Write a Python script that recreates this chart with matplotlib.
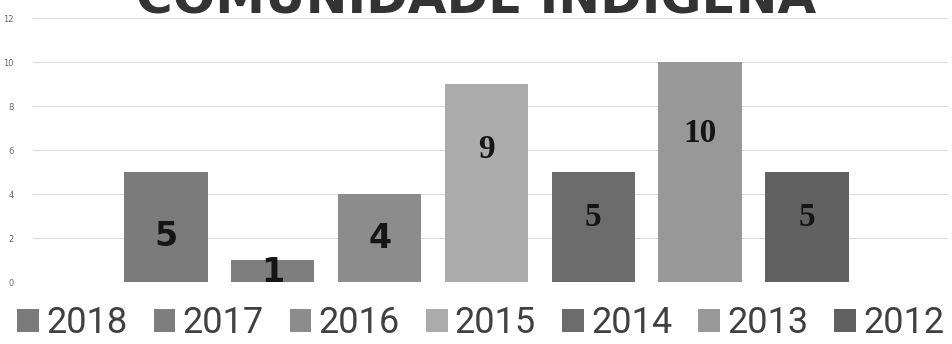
import matplotlib
matplotlib.use("Agg")
import matplotlib.pyplot as plt
from matplotlib.patches import Patch

title = "COMUNIDADE INDÍGENA"
years = ["2018", "2017", "2016", "2015", "2014", "2013", "2012"]
counts = [5, 1, 4, 9, 5, 10, 5]
yticks = [0, 2, 4, 6, 8, 10, 12]

colors = ["#7b7b7b", "#7e7e7e", "#8c8c8c", "#ababab", "#6c6c6c", "#989898", "#616161"]
# label height (data units) and font used for each bar label
label_y = [2.05, 0.45, 2.0, 6.0, 2.95, 6.75, 2.95]
label_family = ["DejaVu Sans"] * 3 + ["Liberation Serif"] * 4

fig = plt.figure(figsize=(9.52, 3.44), dpi=100)
ax = fig.add_axes([33 / 952, 62 / 344, 915 / 952, 264 / 344])

pos = list(range(len(years)))
ax.bar(pos, counts, width=0.78, color=colors, zorder=2)
for x, v, ly, fam in zip(pos, counts, label_y, label_family):
    ax.text(x, ly, str(v), ha="center", va="center", fontsize=24,
            fontweight="bold", family=fam, color="#151515", zorder=3)

ax.set_xlim(-1.245, 7.32)
ax.set_ylim(0, 12)
ax.set_yticks(yticks)
ax.set_xticks([])
ax.tick_params(axis="y", length=0, labelsize=6, labelcolor="#666666", pad=14)
ax.grid(axis="y", color="#dcdcdc", linewidth=0.8, zorder=0)
for s in ax.spines.values():
    s.set_visible(False)

fig.text(0.5, 1 - 24 / 344, title, ha="center", va="bottom", fontsize=36,
         fontweight="bold", color="#333333")

handles = [Patch(facecolor=c, label=y) for c, y in zip(colors, years)]
fig.legend(handles=handles, loc="center", bbox_to_anchor=(0.505, 1 - 323 / 344), ncol=7,
           frameon=False, prop={"family": "Roboto", "size": 26},
           handlelength=0.6, handleheight=0.6, handletextpad=0.2,
           columnspacing=0.72, labelcolor="#404040", borderpad=0, borderaxespad=0)

fig.savefig("out.png", dpi=100)
